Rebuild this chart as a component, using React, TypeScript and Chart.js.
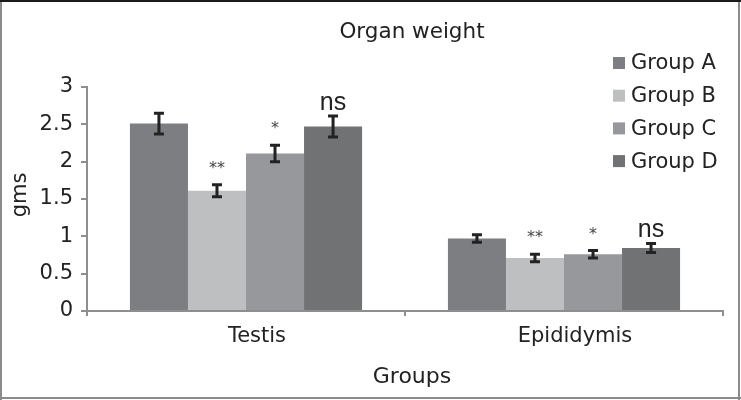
import React, { useEffect, useRef } from "react";
import { Chart, registerables } from "chart.js";

Chart.register(...registerables);

const categories = ["Testis", "Epididymis"];
const groupNames = ["Group A", "Group B", "Group C", "Group D"];
const groupA = [2.51, 0.97];
const groupB = [1.61, 0.71];
const groupC = [2.11, 0.76];
const groupD = [2.47, 0.845];
const errA = [0.14, 0.05];
const errB = [0.08, 0.05];
const errC = [0.11, 0.05];
const errD = [0.14, 0.06];
const marksA = ["", ""];
const marksB = ["**", "**"];
const marksC = ["*", "*"];
const marksD = ["ns", "ns"];
const yTicks = [0, 0.5, 1, 1.5, 2, 2.5, 3];
const colors = ["#7d7e82", "#bebfc1", "#97989c", "#717274"];

const FONT = "'DejaVu Sans', sans-serif";

const errorPlugin = {
  id: "errorBars",
  afterDatasetsDraw(chart: any) {
    const ctx = chart.ctx;
    const y = chart.scales.y;
    chart.data.datasets.forEach((ds: any, i: number) => {
      const meta = chart.getDatasetMeta(i);
      meta.data.forEach((el: any, j: number) => {
        const v = ds.data[j];
        const e = ds.errors[j];
        const top = y.getPixelForValue(v + e);
        const bot = y.getPixelForValue(v - e);
        ctx.save();
        ctx.strokeStyle = "#222222";
        ctx.lineWidth = 3;
        ctx.beginPath();
        ctx.moveTo(el.x, top);
        ctx.lineTo(el.x, bot);
        ctx.moveTo(el.x - 5, top);
        ctx.lineTo(el.x + 5, top);
        ctx.moveTo(el.x - 5, bot);
        ctx.lineTo(el.x + 5, bot);
        ctx.stroke();
        const m = ds.marks[j];
        if (m) {
          ctx.textAlign = "center";
          ctx.textBaseline = "alphabetic";
          if (m === "ns") {
            ctx.fillStyle = "#222222";
            ctx.font = `25px 'Liberation Sans', Arial, sans-serif`;
            ctx.fillText(m, el.x, top - 6);
          } else {
            ctx.fillStyle = "#444444";
            ctx.font = `16px ${FONT}`;
            ctx.fillText(m, el.x, top - 12);
          }
        }
        ctx.restore();
      });
    });
  },
};

const decorPlugin = {
  id: "decor",
  beforeDraw(chart: any) {
    const ctx = chart.ctx;
    ctx.save();
    ctx.fillStyle = "#ffffff";
    ctx.fillRect(0, 0, chart.width, chart.height);
    ctx.restore();
  },
  afterDraw(chart: any) {
    const ctx = chart.ctx;
    const ca = chart.chartArea;
    const cx = (ca.left + ca.right) / 2 + 7;
    ctx.save();
    ctx.fillStyle = "#222222";
    ctx.textAlign = "center";
    ctx.textBaseline = "alphabetic";
    ctx.font = `21.5px ${FONT}`;
    ctx.fillText("Organ weight", cx, 38);
    ctx.font = `22px ${FONT}`;
    ctx.fillText("Groups", cx, 383);
    ctx.save();
    ctx.translate(26, 195);
    ctx.rotate(-Math.PI / 2);
    ctx.font = `21px ${FONT}`;
    ctx.fillText("gms", 0, 0);
    ctx.restore();

    // legend
    ctx.textAlign = "left";
    ctx.font = `21px ${FONT}`;
    chart.data.datasets.forEach((ds: any, i: number) => {
      const yc = 63 + i * 32.7;
      ctx.fillStyle = ds.backgroundColor;
      ctx.fillRect(613, yc - 6, 12, 12);
      ctx.fillStyle = "#222222";
      ctx.textBaseline = "middle";
      ctx.fillText(ds.label, 631, yc + 1);
    });

    // frame
    ctx.fillStyle = "#8a8a8a";
    ctx.fillRect(0, 0, 2, chart.height);
    ctx.fillRect(738, 0, 2, chart.height);
    ctx.fillRect(0, 397, chart.width, 2);
    ctx.fillStyle = "#1a1a1a";
    ctx.fillRect(0, 0, chart.width, 2);
    ctx.restore();
  },
};

export default function App() {
  const ref = useRef<HTMLCanvasElement>(null);
  useEffect(() => {
    if (!ref.current) return;
    const values = [groupA, groupB, groupC, groupD];
    const errs = [errA, errB, errC, errD];
    const marks = [marksA, marksB, marksC, marksD];
    const chart = new Chart(ref.current, {
      type: "bar",
      data: {
        labels: categories,
        datasets: groupNames.map((name, i) => ({
          label: name,
          data: values[i],
          errors: errs[i],
          marks: marks[i],
          backgroundColor: colors[i],
          borderWidth: 0,
          categoryPercentage: 0.73,
          barPercentage: 1.0,
        })) as any,
      },
      options: {
        animation: false,
        responsive: false,
        events: [],
        layout: { padding: { left: 0, top: 87, right: 18, bottom: 0 } },
        plugins: {
          legend: { display: false },
          title: { display: false },
          tooltip: { enabled: false },
        },
        scales: {
          x: {
            afterFit: (s: any) => {
              s.height = 89;
            },
            grid: {
              display: true,
              drawOnChartArea: false,
              drawTicks: true,
              tickLength: 5,
              color: "#8e8e8e",
              lineWidth: 2,
              offset: true,
            },
            border: { display: true, color: "#8e8e8e", width: 2 },
            ticks: {
              color: "#222222",
              font: { family: FONT, size: 21 },
              padding: 8,
              labelOffset: 11,
              maxRotation: 0,
            },
          },
          y: {
            min: 0,
            max: 3,
            afterFit: (s: any) => {
              s.width = 87;
            },
            afterBuildTicks: (s: any) => {
              s.ticks = yTicks.map((v) => ({ value: v }));
            },
            grid: {
              display: true,
              drawOnChartArea: false,
              drawTicks: true,
              tickLength: 6,
              color: "#8e8e8e",
              lineWidth: 2,
            },
            border: { display: true, color: "#8e8e8e", width: 2 },
            ticks: {
              color: "#222222",
              font: { family: FONT, size: 21 },
              padding: 8,
              callback: (v: any) => String(v),
            },
          },
        },
      },
      plugins: [decorPlugin, errorPlugin],
    });
    return () => chart.destroy();
  }, []);
  return (
    <div style={{ position: "fixed", left: 0, top: 0, width: 741, height: 400 }}>
      <canvas ref={ref} width={741} height={400} style={{ width: 741, height: 400, display: "block" }} />
    </div>
  );
}
